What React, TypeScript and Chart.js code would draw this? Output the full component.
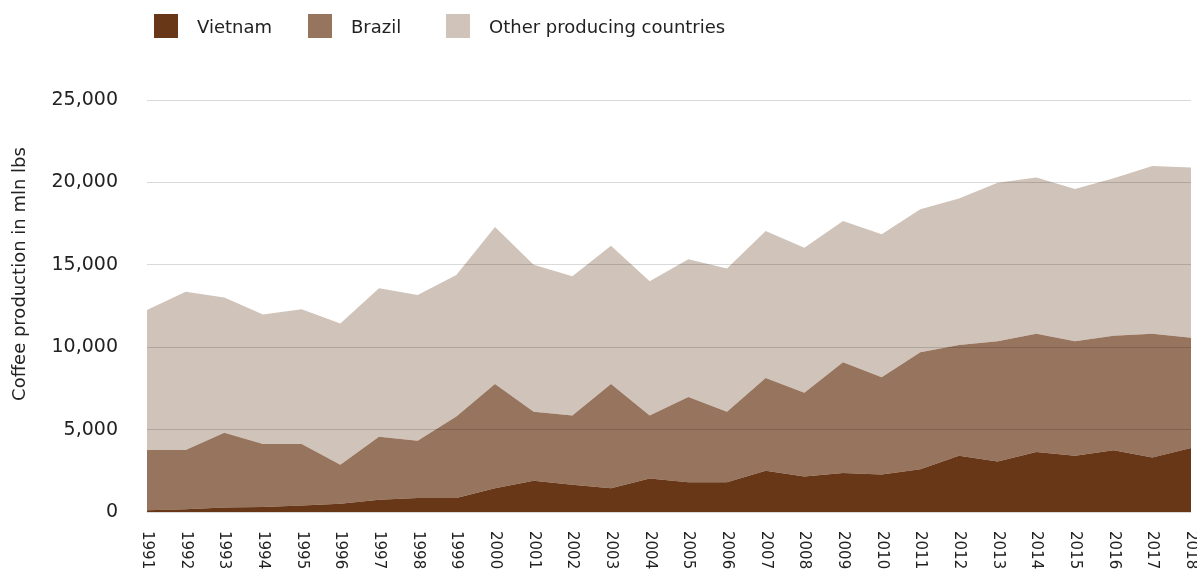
import React, { useEffect, useRef } from "react";
import { Chart, registerables } from "chart.js";

Chart.register(...registerables);

const years: string[] = [
  "1991", "1992", "1993", "1994", "1995", "1996", "1997", "1998", "1999", "2000",
  "2001", "2002", "2003", "2004", "2005", "2006", "2007", "2008", "2009", "2010",
  "2011", "2012", "2013", "2014", "2015", "2016", "2017", "2018",
];

const vietnam: number[] = [
  100, 160, 280, 300, 400, 500, 750, 850, 850, 1440,
  1900, 1660, 1440, 2030, 1800, 1800, 2500, 2150, 2370, 2270,
  2600, 3420, 3060, 3640, 3420, 3750, 3300, 3880,
];

const brazil: number[] = [
  3660, 3600, 4530, 3830, 3730, 2360, 3820, 3480, 4940, 6330,
  4190, 4190, 6330, 3820, 5180, 4290, 5630, 5090, 6710, 5900,
  7090, 6710, 7300, 7180, 6940, 6950, 7520, 6700,
];

const others: number[] = [
  8490, 9610, 8210, 7860, 8170, 8580, 9000, 8830, 8590, 9530,
  8910, 8450, 8380, 8150, 8350, 8690, 8920, 8800, 8580, 8680,
  8680, 8900, 9620, 9480, 9240, 9550, 10180, 10320,
];

const seriesNames: string[] = ["Vietnam", "Brazil", "Other producing countries"];
const seriesColors: string[] = ["#673718", "#96745D", "#D0C3B9"];
const yAxisTitle = "Coffee production in mln lbs";
const yTicks: number[] = [0, 5000, 10000, 15000, 20000, 25000];

const FONT = "'DejaVu Sans', sans-serif";
const TEXT = "#222222";

export default function App() {
  const canvasRef = useRef<HTMLCanvasElement | null>(null);

  useEffect(() => {
    const canvas = canvasRef.current;
    if (!canvas) return;

    const overlay = {
      id: "overlayText",
      afterDraw(chart: any) {
        const ctx = chart.ctx;
        const xs = chart.scales.x;
        ctx.save();
        ctx.fillStyle = TEXT;
        ctx.font = `15px ${FONT}`;
        ctx.textAlign = "left";
        ctx.textBaseline = "middle";
        years.forEach((label, i) => {
          const x = xs.getPixelForValue(i);
          ctx.save();
          ctx.translate(x, chart.chartArea.bottom + 19);
          ctx.rotate(Math.PI / 2);
          ctx.fillText(label, 0, 0);
          ctx.restore();
        });
        ctx.font = `18px ${FONT}`;
        ctx.textAlign = "center";
        ctx.save();
        ctx.translate(20, 274);
        ctx.rotate(-Math.PI / 2);
        ctx.fillText(yAxisTitle, 0, 0);
        ctx.restore();
        ctx.restore();
      },
    };

    const chart = new Chart(canvas, {
      type: "line",
      data: {
        labels: years,
        datasets: [vietnam, brazil, others].map((d, i) => ({
          label: seriesNames[i],
          data: d,
          backgroundColor: seriesColors[i],
          borderColor: seriesColors[i],
          borderWidth: 0,
          pointRadius: 0,
          tension: 0,
          fill: i === 0 ? "origin" : "-1",
        })),
      },
      options: {
        responsive: false,
        animation: false,
        layout: { padding: { top: 100, bottom: 58, left: 0, right: 6 } },
        plugins: {
          legend: { display: false },
          tooltip: { enabled: false },
        },
        scales: {
          x: {
            offset: false,
            grid: { display: false },
            border: { display: false },
            ticks: { display: false },
            afterFit(scale: any) {
              scale.height = 0;
            },
          },
          y: {
            stacked: true,
            min: 0,
            max: 25000,
            afterFit(scale: any) {
              scale.width = 147;
            },
            afterBuildTicks(scale: any) {
              scale.ticks = yTicks.map((v) => ({ value: v }));
            },
            grid: {
              color: "rgba(0,0,0,0.15)",
              drawTicks: false,
              z: 1,
            },
            border: { display: false },
            ticks: {
              padding: 29,
              color: TEXT,
              font: { family: FONT, size: 19 },
            },
          },
        },
      },
      plugins: [overlay],
    });

    return () => chart.destroy();
  }, []);

  const legendItemStyle: React.CSSProperties = {
    position: "absolute",
    top: 14,
    height: 24,
    display: "flex",
    alignItems: "center",
    fontFamily: FONT,
    fontSize: 18,
    color: TEXT,
    whiteSpace: "nowrap",
  };
  const boxStyle = (c: string): React.CSSProperties => ({
    width: 24,
    height: 24,
    background: c,
    marginRight: 19,
    flex: "none",
  });
  const legendLefts = [154, 308, 446];

  return (
    <div
      style={{
        position: "fixed",
        left: 0,
        top: 0,
        width: 1197,
        height: 570,
        background: "#ffffff",
        overflow: "hidden",
      }}
    >
      <canvas ref={canvasRef} width={1197} height={570} style={{ display: "block" }} />
      {seriesNames.map((n, i) => (
        <div key={n} style={{ ...legendItemStyle, left: legendLefts[i] }}>
          <div style={boxStyle(seriesColors[i])} />
          <span>{n}</span>
        </div>
      ))}
    </div>
  );
}
